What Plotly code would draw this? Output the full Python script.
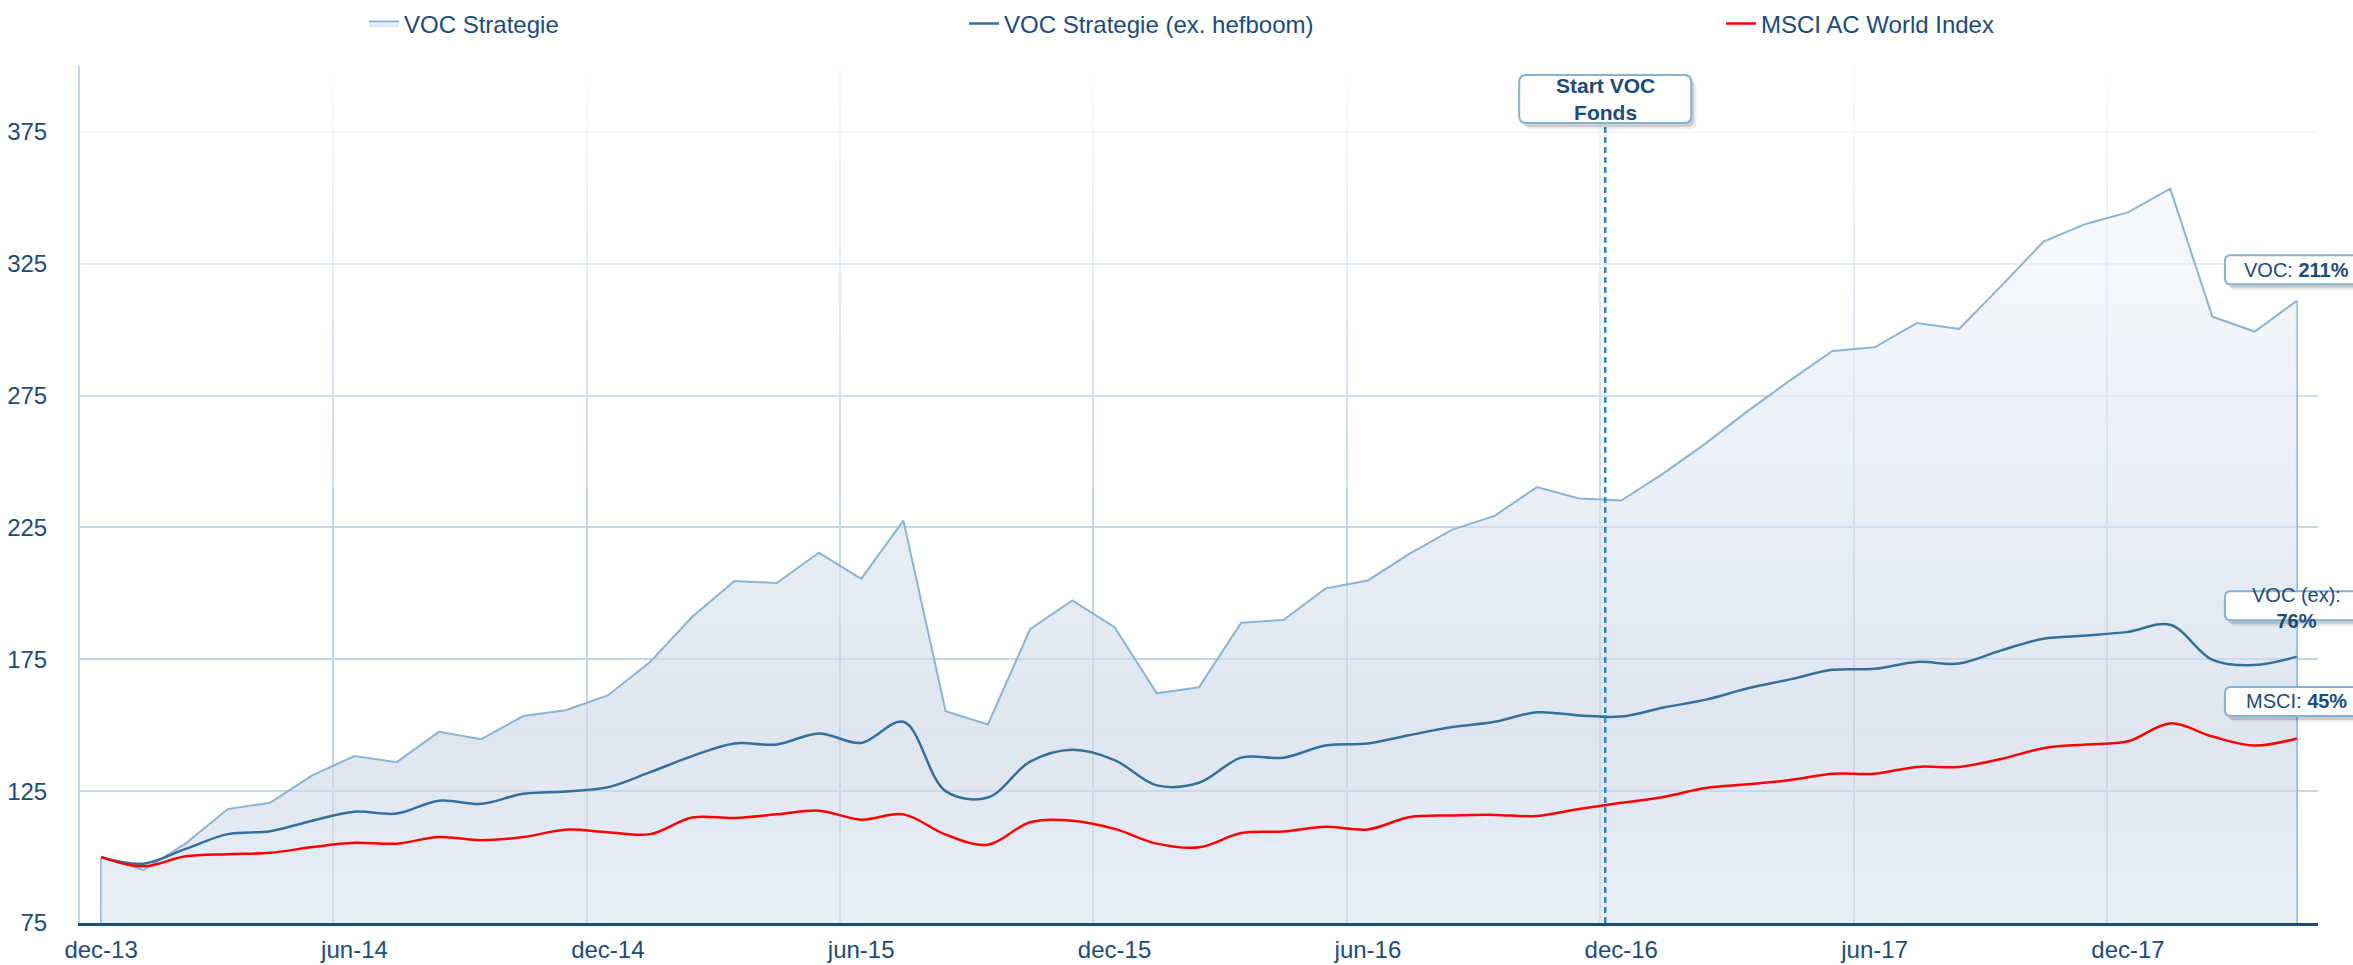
import plotly.graph_objects as go

# ---------------- data ----------------
months = ["dec-13",
          "jan-14", "feb-14", "mrt-14", "apr-14", "mei-14", "jun-14", "jul-14", "aug-14", "sep-14", "okt-14", "nov-14", "dec-14",
          "jan-15", "feb-15", "mrt-15", "apr-15", "mei-15", "jun-15", "jul-15", "aug-15", "sep-15", "okt-15", "nov-15", "dec-15",
          "jan-16", "feb-16", "mrt-16", "apr-16", "mei-16", "jun-16", "jul-16", "aug-16", "sep-16", "okt-16", "nov-16", "dec-16",
          "jan-17", "feb-17", "mrt-17", "apr-17", "mei-17", "jun-17", "jul-17", "aug-17", "sep-17", "okt-17", "nov-17", "dec-17",
          "jan-18", "feb-18", "mrt-18", "apr-18"]

voc = [100.0, 95.1, 105.1, 118.2, 120.6, 131.0, 138.3, 136.0, 147.5, 144.7, 153.5, 155.7, 161.3,
       174.0, 191.1, 204.7, 203.9, 215.4, 205.5, 227.6, 155.3, 150.3, 186.4, 197.3, 187.2,
       162.1, 164.4, 188.9, 189.9, 201.9, 204.9, 215.2, 224.2, 229.4, 240.3, 236.0, 235.2,
       245.5, 256.9, 269.2, 280.8, 291.9, 293.3, 302.5, 300.3, 316.6, 333.4, 340.1, 344.5,
       353.5, 304.9, 299.3, 311.0]

voc_ex = [100.0, 97.5, 103.1, 108.7, 109.8, 113.8, 117.2, 116.5, 121.4, 120.2, 124.0, 124.9, 126.5,
          132.2, 138.3, 143.1, 142.7, 146.9, 143.3, 151.3, 125.0, 122.6, 136.2, 140.7, 136.8,
          127.2, 128.2, 137.7, 137.7, 142.3, 143.1, 146.3, 149.3, 151.3, 154.9, 153.7, 153.3,
          156.7, 159.7, 164.0, 167.4, 171.0, 171.4, 174.0, 173.4, 178.4, 182.8, 184.0, 185.4,
          188.1, 174.8, 172.8, 176.0]

msci = [100.0, 96.5, 100.3, 101.1, 101.6, 103.8, 105.4, 105.1, 107.6, 106.4, 107.6, 110.4, 109.4,
        108.7, 115.0, 114.8, 116.2, 117.6, 114.2, 116.2, 108.5, 104.7, 113.2, 113.8, 110.7,
        105.1, 103.7, 109.1, 109.7, 111.5, 110.5, 115.2, 115.8, 116.0, 115.6, 118.2, 120.6,
        122.8, 126.2, 127.6, 129.2, 131.6, 131.6, 134.2, 134.2, 137.2, 141.3, 142.7, 143.9,
        150.7, 145.7, 142.3, 145.0]

tick_labels = ["dec-13", "jun-14", "dec-14", "jun-15", "dec-15", "jun-16", "dec-16", "jun-17", "dec-17"]
y_ticks = [75, 125, 175, 225, 275, 325, 375]
series_names = ["VOC Strategie", "VOC Strategie (ex. hefboom)", "MSCI AC World Index"]
start_fonds_pos = 35.62          # between nov-16 and dec-16
start_fonds_text = "<b>Start VOC<br>Fonds</b>"
end_labels = ["VOC: <b>211%</b>", "VOC (ex):<br><b>76%</b>", "MSCI: <b>45%</b>"]

# ---------------- layout constants ----------------
W, H = 2353, 965
ML, MR, MT, MB = 80, 35, 66, 42
Y0, Y1 = 75, 400
x = list(range(len(months)))
X0, X1 = -0.5, len(months) - 0.5
plot_w = W - ML - MR
plot_h = H - MT - MB
ppu = plot_h / (Y1 - Y0)          # pixels per y unit

TXT = "#1c4b7b"
GRID = "#c6d6e9"
FONT = "Liberation Sans, Arial, sans-serif"

tick_pos = [months.index(t) for t in tick_labels]
grid_pos = [p - 0.5 for p in tick_pos]


def paper_x(v):
    return (v - X0) / (X1 - X0)


def paper_y(v):
    return (v - Y0) / (Y1 - Y0)


def rrect(w, h, r, dx=0.0, dy=0.0):
    x0, x1 = -w / 2 + dx, w / 2 + dx
    y0, y1 = -h / 2 + dy, h / 2 + dy
    return (f"M{x0 + r},{y0} L{x1 - r},{y0} Q{x1},{y0} {x1},{y0 + r} L{x1},{y1 - r} "
            f"Q{x1},{y1} {x1 - r},{y1} L{x0 + r},{y1} Q{x0},{y1} {x0},{y1 - r} "
            f"L{x0},{y0 + r} Q{x0},{y0} {x0 + r},{y0} Z")


fig = go.Figure()

fig.add_trace(go.Scatter(
    x=x, y=voc, name=series_names[0], mode="lines",
    line=dict(color="#8ab4d3", width=2),
    fill="tozeroy",
    fillgradient=dict(type="vertical", start=75, stop=360,
                      colorscale=[[0, "rgba(218,227,240,0.6)"],
                                  [0.25, "rgba(202,213,230,0.6)"],
                                  [1, "rgba(243,246,251,0.6)"]]),
    legend="legend", hoverinfo="skip"))

fig.add_trace(go.Scatter(
    x=x, y=voc_ex, name=series_names[1], mode="lines",
    line=dict(color="#34709c", width=2.5, shape="spline", smoothing=1.0),
    legend="legend2", hoverinfo="skip"))

fig.add_trace(go.Scatter(
    x=x, y=msci, name=series_names[2], mode="lines",
    line=dict(color="#ff0000", width=2.5, shape="spline", smoothing=1.0),
    legend="legend3", hoverinfo="skip"))

shapes = []
# fading of the grid towards the top
n_b = 35
for k in range(n_b):
    yb0 = 225 + k * 5
    op = min(1.0, (yb0 + 2.5 - 225) / 175.0) * 0.92
    shapes.append(dict(type="rect", xref="x", yref="y", x0=X0, x1=X1, y0=yb0, y1=yb0 + 5,
                       fillcolor=f"rgba(255,255,255,{op:.3f})", line=dict(width=0), layer="between"))
# vertical edges of the area series
for i in (0, len(x) - 1):
    shapes.append(dict(type="line", xref="x", yref="y", x0=x[i], x1=x[i], y0=Y0, y1=voc[i],
                       line=dict(color="#8ab4d3", width=2), layer="between"))

# Start VOC Fonds marker
fonds_y = Y0 + (plot_h - (99 - MT)) / ppu
box_w, box_h = 172, 48
shapes.append(dict(type="line", xref="x", yref="y", x0=start_fonds_pos, x1=start_fonds_pos,
                   y0=Y0, y1=fonds_y - (box_h / 2) / ppu,
                   line=dict(color="#2f89c5", width=2.5, dash="6px,4px"), layer="above"))
for dx, dy, col in ((5, -6, "rgba(0,0,0,0.07)"), (3, -4, "rgba(0,0,0,0.13)")):
    shapes.append(dict(type="path", xref="x", yref="y", xsizemode="pixel", ysizemode="pixel",
                       xanchor=start_fonds_pos, yanchor=fonds_y,
                       path=rrect(box_w, box_h, 7, dx, dy), fillcolor=col, line=dict(width=0), layer="above"))
shapes.append(dict(type="path", xref="x", yref="y", xsizemode="pixel", ysizemode="pixel",
                   xanchor=start_fonds_pos, yanchor=fonds_y,
                   path=rrect(box_w, box_h, 7), fillcolor="white",
                   line=dict(color="#82b2d4", width=2), layer="above"))

annotations = [dict(x=start_fonds_pos, y=fonds_y, xref="x", yref="y", text=start_fonds_text,
                    showarrow=False, font=dict(family=FONT, size=21, color=TXT), align="center")]

# end-of-line labels
last = len(x) - 1
label_specs = [(voc[last], 31, 31), (voc_ex[last], 51, 49), (msci[last], 37, 37)]
for (v, box_shift, text_shift), txt in zip(label_specs, end_labels):
    ax_p, ay_p = paper_x(x[last]), paper_y(v)
    for dx, dy, col in ((5, -6, "rgba(0,0,0,0.07)"), (3, -4, "rgba(0,0,0,0.13)")):
        shapes.append(dict(type="path", xref="paper", yref="paper", xsizemode="pixel", ysizemode="pixel",
                           xanchor=ax_p, yanchor=ay_p, path=rrect(144, 29, 6, dx, box_shift + dy),
                           fillcolor=col, line=dict(width=0), layer="above"))
    shapes.append(dict(type="path", xref="paper", yref="paper", xsizemode="pixel", ysizemode="pixel",
                       xanchor=ax_p, yanchor=ay_p, path=rrect(144, 29, 6, 0, box_shift),
                       fillcolor="white", line=dict(color="#82b2d4", width=2), layer="above"))
    annotations.append(dict(x=x[last], y=v, xref="x", yref="y", text=txt, showarrow=False,
                            yshift=text_shift, xanchor="center", yanchor="middle", align="center",
                            font=dict(family=FONT, size=20, color=TXT)))

leg_common = dict(orientation="h", yanchor="middle", xanchor="left", y=1.049,
                  bgcolor="rgba(0,0,0,0)", font=dict(family=FONT, size=24, color=TXT),
                  itemclick=False, itemdoubleclick=False)
leg_px = [364, 964, 1721]

fig.update_layout(
    width=W, height=H,
    margin=dict(l=ML, r=MR, t=MT, b=MB, autoexpand=False),
    paper_bgcolor="white", plot_bgcolor="white",
    font=dict(family=FONT, size=24, color=TXT),
    showlegend=True,
    legend=dict(leg_common, x=(leg_px[0] - ML) / plot_w),
    legend2=dict(leg_common, x=(leg_px[1] - ML) / plot_w),
    legend3=dict(leg_common, x=(leg_px[2] - ML) / plot_w),
    xaxis=dict(range=[X0, X1], tickmode="array", tickvals=tick_pos, ticktext=tick_labels,
               showgrid=False, zeroline=False, showline=True, linecolor="#1b4d7a", linewidth=3,
               ticks="", ticklabelstandoff=3, tickfont=dict(family=FONT, size=24, color=TXT),
               minor=dict(tickmode="array", tickvals=grid_pos, showgrid=True,
                          gridcolor=GRID, gridwidth=1.5, ticks=""),
               fixedrange=True, automargin=False),
    yaxis=dict(range=[Y0, Y1], tickmode="array", tickvals=y_ticks, ticktext=[str(v) for v in y_ticks],
               showgrid=True, gridcolor=GRID, gridwidth=1.5, zeroline=False,
               showline=True, linecolor="#c6d6e9", linewidth=2,
               ticks="", ticklabelstandoff=26, tickfont=dict(family=FONT, size=24, color=TXT),
               fixedrange=True, automargin=False),
    shapes=shapes,
    annotations=annotations,
    hovermode=False,
)

fig.write_html("out.html", config=dict(displayModeBar=False),
               post_script="document.body.style.margin='0';document.body.style.overflow='hidden';")
